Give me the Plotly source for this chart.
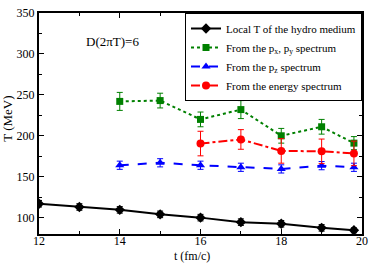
import plotly.graph_objects as go

t_hydro = [12, 13, 14, 15, 16, 17, 18, 19, 19.8]
T_hydro = [117, 113, 109.5, 104, 100, 94.5, 92.5, 87.5, 84.5]
e_hydro = [4, 4, 4, 4, 4, 4, 4, 4, 3]

t_pxy = [14, 15, 16, 17, 18, 19, 19.8]
T_pxy = [242, 243, 220, 232, 200, 211, 191]
e_pxy = [11, 9, 9, 11, 9, 9, 8]

t_pz = [14, 15, 16, 17, 18, 19, 19.8]
T_pz = [164, 167, 164, 161.5, 159.5, 163.5, 161.5]
e_pz = [5, 5, 5, 5, 5, 5, 5]

t_en = [16, 17, 18, 19, 19.8]
T_en = [190.5, 195.5, 181.5, 181, 178.5]
e_en = [15, 12, 15, 15, 15]

names = ["Local T of the hydro medium",
         "From the p<sub>x</sub>, p<sub>y</sub> spectrum",
         "From the p<sub>z</sub> spectrum",
         "From the energy spectrum"]

font = "Liberation Serif"

fig = go.Figure()

def add(x, y, e, name, color, dash, symbol, msize):
    fig.add_trace(go.Scatter(
        x=x, y=y, name=name, mode="lines+markers",
        line=dict(color=color, width=2, dash=dash),
        marker=dict(color=color, symbol=symbol, size=msize),
        error_y=dict(type="data", array=e, visible=True, color=color,
                     thickness=1, width=3),
    ))

add(t_hydro, T_hydro, e_hydro, names[0], "black", "solid", "diamond", 8)
add(t_pxy, T_pxy, e_pxy, names[1], "#008000", "dot", "square", 7)
add(t_pz, T_pz, e_pz, names[2], "blue", "dash", "triangle-up", 8)
add(t_en, T_en, e_en, names[3], "red", "dashdot", "circle", 8)

fig.add_annotation(x=13.83, y=315, text="D(2πT)=6", showarrow=False,
                   font=dict(family=font, size=13, color="black"))
fig.add_annotation(xref="paper", yref="paper", x=0.475, y=-0.098,
                   xanchor="center", yanchor="middle", showarrow=False, borderpad=0,
                   text="t (fm/c)", font=dict(family=font, size=12, color="black"))
fig.add_annotation(xref="paper", yref="paper", x=-0.1, y=0.52,
                   xanchor="center", yanchor="middle", showarrow=False, textangle=-90,
                   text="T (MeV)", font=dict(family=font, size=13, color="black"))

axis_common = dict(
    showgrid=False, zeroline=False, showline=True, linecolor="black",
    linewidth=2, mirror="ticks", ticks="inside", ticklen=5, tickwidth=1,
    tickcolor="black", tickfont=dict(family=font, size=12, color="black"),
    ticklabeloverflow="allow",
)

fig.update_xaxes(range=[12, 20], dtick=2, tick0=12, ticklabelstandoff=-5,
                 minor=dict(dtick=1, ticks="inside", ticklen=3, tickcolor="black"),
                 **axis_common)
fig.update_yaxes(range=[80, 350], dtick=50, tick0=0,
                 minor=dict(dtick=25, ticks="inside", ticklen=3, tickcolor="black"),
                 **axis_common)

fig.update_layout(
    width=374, height=263,
    margin=dict(l=39, r=8, t=6, b=29),
    plot_bgcolor="white", paper_bgcolor="white",
    font=dict(family=font, size=12, color="black"),
    legend=dict(x=1, y=1, xanchor="right", yanchor="top",
                bgcolor="white", bordercolor="black", borderwidth=1,
                font=dict(family=font, size=11, color="black"),
                tracegroupgap=0, itemwidth=30),
    showlegend=True,
)

fig.write_html("out.html", config={"displayModeBar": False},
               post_script="document.body.style.margin='0';document.body.style.padding='0';")
